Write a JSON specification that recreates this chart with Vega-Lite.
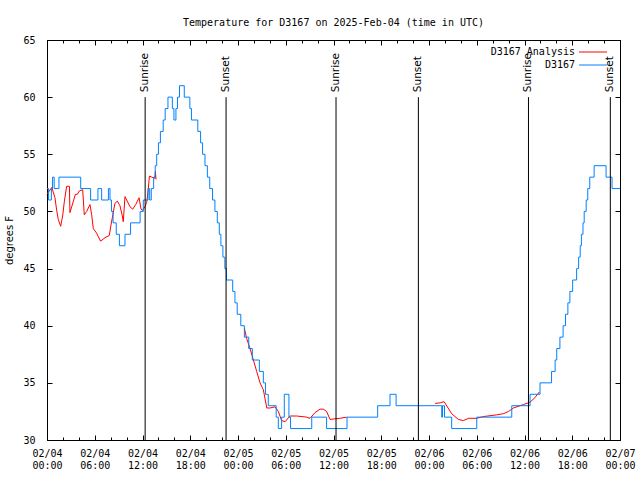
{
  "$schema": "https://vega.github.io/schema/vega-lite/v6.json",
  "width": 573,
  "height": 400,
  "autosize": {"type": "none"},
  "padding": {"left": 47, "top": 40, "right": 20, "bottom": 40},
  "background": "white",
  "title": {"text": "Temperature for D3167 on 2025-Feb-04 (time in UTC)", "font": "DejaVu Sans Mono", "fontSize": 10, "fontWeight": "normal", "color": "black", "anchor": "middle", "frame": "group", "baseline": "alphabetic", "offset": -1},
  "datasets": {
    "temps": [
      {"s": "D3167 Analysis", "g": "a", "t": "2025-02-04T00:00Z", "v": 51.5},
      {"s": "D3167 Analysis", "g": "a", "t": "2025-02-04T00:36Z", "v": 52.1},
      {"s": "D3167 Analysis", "g": "a", "t": "2025-02-04T01:00Z", "v": 51.2},
      {"s": "D3167 Analysis", "g": "a", "t": "2025-02-04T01:13Z", "v": 50.1},
      {"s": "D3167 Analysis", "g": "a", "t": "2025-02-04T01:25Z", "v": 49.3},
      {"s": "D3167 Analysis", "g": "a", "t": "2025-02-04T01:43Z", "v": 48.7},
      {"s": "D3167 Analysis", "g": "a", "t": "2025-02-04T01:58Z", "v": 49.6},
      {"s": "D3167 Analysis", "g": "a", "t": "2025-02-04T02:11Z", "v": 50.9},
      {"s": "D3167 Analysis", "g": "a", "t": "2025-02-04T02:28Z", "v": 52.2},
      {"s": "D3167 Analysis", "g": "a", "t": "2025-02-04T02:49Z", "v": 52.2},
      {"s": "D3167 Analysis", "g": "a", "t": "2025-02-04T02:53Z", "v": 49.9},
      {"s": "D3167 Analysis", "g": "a", "t": "2025-02-04T03:06Z", "v": 50.4},
      {"s": "D3167 Analysis", "g": "a", "t": "2025-02-04T03:19Z", "v": 50.9},
      {"s": "D3167 Analysis", "g": "a", "t": "2025-02-04T03:34Z", "v": 51.5},
      {"s": "D3167 Analysis", "g": "a", "t": "2025-02-04T03:49Z", "v": 51.5},
      {"s": "D3167 Analysis", "g": "a", "t": "2025-02-04T04:04Z", "v": 51.8},
      {"s": "D3167 Analysis", "g": "a", "t": "2025-02-04T04:29Z", "v": 51.9},
      {"s": "D3167 Analysis", "g": "a", "t": "2025-02-04T04:41Z", "v": 49.7},
      {"s": "D3167 Analysis", "g": "a", "t": "2025-02-04T04:59Z", "v": 50.0},
      {"s": "D3167 Analysis", "g": "a", "t": "2025-02-04T05:24Z", "v": 50.6},
      {"s": "D3167 Analysis", "g": "a", "t": "2025-02-04T05:37Z", "v": 49.7},
      {"s": "D3167 Analysis", "g": "a", "t": "2025-02-04T05:49Z", "v": 48.5},
      {"s": "D3167 Analysis", "g": "a", "t": "2025-02-04T06:14Z", "v": 48.1},
      {"s": "D3167 Analysis", "g": "a", "t": "2025-02-04T06:44Z", "v": 47.4},
      {"s": "D3167 Analysis", "g": "a", "t": "2025-02-04T07:17Z", "v": 47.7},
      {"s": "D3167 Analysis", "g": "a", "t": "2025-02-04T07:50Z", "v": 47.9},
      {"s": "D3167 Analysis", "g": "a", "t": "2025-02-04T08:02Z", "v": 48.8},
      {"s": "D3167 Analysis", "g": "a", "t": "2025-02-04T08:15Z", "v": 49.6},
      {"s": "D3167 Analysis", "g": "a", "t": "2025-02-04T08:32Z", "v": 50.7},
      {"s": "D3167 Analysis", "g": "a", "t": "2025-02-04T08:50Z", "v": 50.9},
      {"s": "D3167 Analysis", "g": "a", "t": "2025-02-04T09:10Z", "v": 50.5},
      {"s": "D3167 Analysis", "g": "a", "t": "2025-02-04T09:28Z", "v": 49.6},
      {"s": "D3167 Analysis", "g": "a", "t": "2025-02-04T09:35Z", "v": 49.1},
      {"s": "D3167 Analysis", "g": "a", "t": "2025-02-04T09:48Z", "v": 51.3},
      {"s": "D3167 Analysis", "g": "a", "t": "2025-02-04T10:05Z", "v": 50.9},
      {"s": "D3167 Analysis", "g": "a", "t": "2025-02-04T10:26Z", "v": 50.4},
      {"s": "D3167 Analysis", "g": "a", "t": "2025-02-04T10:46Z", "v": 50.2},
      {"s": "D3167 Analysis", "g": "a", "t": "2025-02-04T11:09Z", "v": 50.6},
      {"s": "D3167 Analysis", "g": "a", "t": "2025-02-04T11:34Z", "v": 51.2},
      {"s": "D3167 Analysis", "g": "a", "t": "2025-02-04T11:49Z", "v": 50.2},
      {"s": "D3167 Analysis", "g": "a", "t": "2025-02-04T12:01Z", "v": 50.1},
      {"s": "D3167 Analysis", "g": "a", "t": "2025-02-04T12:18Z", "v": 50.4},
      {"s": "D3167 Analysis", "g": "a", "t": "2025-02-04T12:32Z", "v": 50.8},
      {"s": "D3167 Analysis", "g": "a", "t": "2025-02-04T12:44Z", "v": 52.0},
      {"s": "D3167 Analysis", "g": "a", "t": "2025-02-04T12:52Z", "v": 53.1},
      {"s": "D3167 Analysis", "g": "a", "t": "2025-02-04T13:10Z", "v": 53.0},
      {"s": "D3167 Analysis", "g": "a", "t": "2025-02-04T13:33Z", "v": 52.9},
      {"s": "D3167 Analysis", "g": "a", "t": "2025-02-04T13:37Z", "v": 53.5},
      {"s": "D3167 Analysis", "g": "a", "t": "2025-02-04T13:42Z", "v": 52.8},
      {"s": "D3167 Analysis", "g": "b", "t": "2025-02-05T00:48Z", "v": 39.8},
      {"s": "D3167 Analysis", "g": "b", "t": "2025-02-05T01:05Z", "v": 38.9},
      {"s": "D3167 Analysis", "g": "b", "t": "2025-02-05T01:31Z", "v": 38.0},
      {"s": "D3167 Analysis", "g": "b", "t": "2025-02-05T01:56Z", "v": 37.0},
      {"s": "D3167 Analysis", "g": "b", "t": "2025-02-05T02:21Z", "v": 36.0},
      {"s": "D3167 Analysis", "g": "b", "t": "2025-02-05T02:46Z", "v": 35.0},
      {"s": "D3167 Analysis", "g": "b", "t": "2025-02-05T03:11Z", "v": 34.4},
      {"s": "D3167 Analysis", "g": "b", "t": "2025-02-05T03:37Z", "v": 32.8},
      {"s": "D3167 Analysis", "g": "b", "t": "2025-02-05T04:01Z", "v": 32.8},
      {"s": "D3167 Analysis", "g": "b", "t": "2025-02-05T04:39Z", "v": 32.9},
      {"s": "D3167 Analysis", "g": "b", "t": "2025-02-05T05:04Z", "v": 32.5},
      {"s": "D3167 Analysis", "g": "b", "t": "2025-02-05T05:29Z", "v": 31.7},
      {"s": "D3167 Analysis", "g": "b", "t": "2025-02-05T05:55Z", "v": 31.6},
      {"s": "D3167 Analysis", "g": "b", "t": "2025-02-05T06:32Z", "v": 32.1},
      {"s": "D3167 Analysis", "g": "b", "t": "2025-02-05T07:23Z", "v": 32.1},
      {"s": "D3167 Analysis", "g": "b", "t": "2025-02-05T08:38Z", "v": 32.0},
      {"s": "D3167 Analysis", "g": "b", "t": "2025-02-05T09:03Z", "v": 31.9},
      {"s": "D3167 Analysis", "g": "b", "t": "2025-02-05T09:41Z", "v": 32.4},
      {"s": "D3167 Analysis", "g": "b", "t": "2025-02-05T10:18Z", "v": 32.7},
      {"s": "D3167 Analysis", "g": "b", "t": "2025-02-05T10:43Z", "v": 32.7},
      {"s": "D3167 Analysis", "g": "b", "t": "2025-02-05T11:08Z", "v": 32.5},
      {"s": "D3167 Analysis", "g": "b", "t": "2025-02-05T11:34Z", "v": 31.8},
      {"s": "D3167 Analysis", "g": "b", "t": "2025-02-05T12:11Z", "v": 31.85},
      {"s": "D3167 Analysis", "g": "b", "t": "2025-02-05T12:48Z", "v": 31.9},
      {"s": "D3167 Analysis", "g": "b", "t": "2025-02-05T13:40Z", "v": 32.0},
      {"s": "D3167 Analysis", "g": "c", "t": "2025-02-06T00:46Z", "v": 33.2},
      {"s": "D3167 Analysis", "g": "c", "t": "2025-02-06T01:24Z", "v": 33.25},
      {"s": "D3167 Analysis", "g": "c", "t": "2025-02-06T01:54Z", "v": 33.35},
      {"s": "D3167 Analysis", "g": "c", "t": "2025-02-06T02:51Z", "v": 32.3},
      {"s": "D3167 Analysis", "g": "c", "t": "2025-02-06T03:41Z", "v": 31.8},
      {"s": "D3167 Analysis", "g": "c", "t": "2025-02-06T04:19Z", "v": 31.7},
      {"s": "D3167 Analysis", "g": "c", "t": "2025-02-06T05:00Z", "v": 31.9},
      {"s": "D3167 Analysis", "g": "c", "t": "2025-02-06T06:00Z", "v": 31.9},
      {"s": "D3167 Analysis", "g": "c", "t": "2025-02-06T06:50Z", "v": 32.05},
      {"s": "D3167 Analysis", "g": "c", "t": "2025-02-06T08:31Z", "v": 32.2},
      {"s": "D3167 Analysis", "g": "c", "t": "2025-02-06T09:20Z", "v": 32.3},
      {"s": "D3167 Analysis", "g": "c", "t": "2025-02-06T10:00Z", "v": 32.5},
      {"s": "D3167 Analysis", "g": "c", "t": "2025-02-06T10:36Z", "v": 32.8},
      {"s": "D3167 Analysis", "g": "c", "t": "2025-02-06T11:51Z", "v": 33.1},
      {"s": "D3167 Analysis", "g": "c", "t": "2025-02-06T12:41Z", "v": 33.3},
      {"s": "D3167 Analysis", "g": "c", "t": "2025-02-06T13:18Z", "v": 33.7},
      {"s": "D3167 Analysis", "g": "c", "t": "2025-02-06T13:52Z", "v": 34.2},
      {"s": "D3167", "g": "d", "t": "2025-02-04T00:00Z", "v": 52},
      {"s": "D3167", "g": "d", "t": "2025-02-04T00:12Z", "v": 51},
      {"s": "D3167", "g": "d", "t": "2025-02-04T00:33Z", "v": 52},
      {"s": "D3167", "g": "d", "t": "2025-02-04T00:42Z", "v": 53},
      {"s": "D3167", "g": "d", "t": "2025-02-04T00:54Z", "v": 52},
      {"s": "D3167", "g": "d", "t": "2025-02-04T01:30Z", "v": 53},
      {"s": "D3167", "g": "d", "t": "2025-02-04T04:14Z", "v": 52},
      {"s": "D3167", "g": "d", "t": "2025-02-04T05:29Z", "v": 51},
      {"s": "D3167", "g": "d", "t": "2025-02-04T06:24Z", "v": 52},
      {"s": "D3167", "g": "d", "t": "2025-02-04T06:52Z", "v": 51},
      {"s": "D3167", "g": "d", "t": "2025-02-04T07:43Z", "v": 52},
      {"s": "D3167", "g": "d", "t": "2025-02-04T07:55Z", "v": 51},
      {"s": "D3167", "g": "d", "t": "2025-02-04T08:06Z", "v": 50},
      {"s": "D3167", "g": "d", "t": "2025-02-04T08:18Z", "v": 49},
      {"s": "D3167", "g": "d", "t": "2025-02-04T08:42Z", "v": 48},
      {"s": "D3167", "g": "d", "t": "2025-02-04T09:06Z", "v": 47},
      {"s": "D3167", "g": "d", "t": "2025-02-04T09:48Z", "v": 48},
      {"s": "D3167", "g": "d", "t": "2025-02-04T10:30Z", "v": 49},
      {"s": "D3167", "g": "d", "t": "2025-02-04T11:42Z", "v": 50},
      {"s": "D3167", "g": "d", "t": "2025-02-04T12:06Z", "v": 51},
      {"s": "D3167", "g": "d", "t": "2025-02-04T12:42Z", "v": 52},
      {"s": "D3167", "g": "d", "t": "2025-02-04T12:54Z", "v": 51},
      {"s": "D3167", "g": "d", "t": "2025-02-04T13:06Z", "v": 52},
      {"s": "D3167", "g": "d", "t": "2025-02-04T13:24Z", "v": 53},
      {"s": "D3167", "g": "d", "t": "2025-02-04T13:36Z", "v": 54},
      {"s": "D3167", "g": "d", "t": "2025-02-04T13:47Z", "v": 55},
      {"s": "D3167", "g": "d", "t": "2025-02-04T14:00Z", "v": 56},
      {"s": "D3167", "g": "d", "t": "2025-02-04T14:15Z", "v": 57},
      {"s": "D3167", "g": "d", "t": "2025-02-04T14:36Z", "v": 58},
      {"s": "D3167", "g": "d", "t": "2025-02-04T14:51Z", "v": 59},
      {"s": "D3167", "g": "d", "t": "2025-02-04T15:12Z", "v": 60},
      {"s": "D3167", "g": "d", "t": "2025-02-04T15:45Z", "v": 59},
      {"s": "D3167", "g": "d", "t": "2025-02-04T15:57Z", "v": 58},
      {"s": "D3167", "g": "d", "t": "2025-02-04T16:12Z", "v": 59},
      {"s": "D3167", "g": "d", "t": "2025-02-04T16:24Z", "v": 60},
      {"s": "D3167", "g": "d", "t": "2025-02-04T16:39Z", "v": 61},
      {"s": "D3167", "g": "d", "t": "2025-02-04T17:15Z", "v": 60},
      {"s": "D3167", "g": "d", "t": "2025-02-04T17:57Z", "v": 59},
      {"s": "D3167", "g": "d", "t": "2025-02-04T18:09Z", "v": 58},
      {"s": "D3167", "g": "d", "t": "2025-02-04T18:57Z", "v": 57},
      {"s": "D3167", "g": "d", "t": "2025-02-04T19:18Z", "v": 56},
      {"s": "D3167", "g": "d", "t": "2025-02-04T19:33Z", "v": 55},
      {"s": "D3167", "g": "d", "t": "2025-02-04T19:51Z", "v": 54},
      {"s": "D3167", "g": "d", "t": "2025-02-04T20:09Z", "v": 53},
      {"s": "D3167", "g": "d", "t": "2025-02-04T20:27Z", "v": 52},
      {"s": "D3167", "g": "d", "t": "2025-02-04T20:48Z", "v": 51},
      {"s": "D3167", "g": "d", "t": "2025-02-04T21:06Z", "v": 50},
      {"s": "D3167", "g": "d", "t": "2025-02-04T21:24Z", "v": 49},
      {"s": "D3167", "g": "d", "t": "2025-02-04T21:39Z", "v": 48},
      {"s": "D3167", "g": "d", "t": "2025-02-04T21:51Z", "v": 47},
      {"s": "D3167", "g": "d", "t": "2025-02-04T22:06Z", "v": 46},
      {"s": "D3167", "g": "d", "t": "2025-02-04T22:21Z", "v": 45},
      {"s": "D3167", "g": "d", "t": "2025-02-04T22:33Z", "v": 44},
      {"s": "D3167", "g": "d", "t": "2025-02-04T23:20Z", "v": 43},
      {"s": "D3167", "g": "d", "t": "2025-02-04T23:37Z", "v": 42},
      {"s": "D3167", "g": "d", "t": "2025-02-04T23:54Z", "v": 41},
      {"s": "D3167", "g": "d", "t": "2025-02-05T00:21Z", "v": 40},
      {"s": "D3167", "g": "d", "t": "2025-02-05T00:48Z", "v": 39},
      {"s": "D3167", "g": "d", "t": "2025-02-05T01:21Z", "v": 38},
      {"s": "D3167", "g": "d", "t": "2025-02-05T01:48Z", "v": 37},
      {"s": "D3167", "g": "d", "t": "2025-02-05T02:41Z", "v": 36},
      {"s": "D3167", "g": "d", "t": "2025-02-05T03:11Z", "v": 35},
      {"s": "D3167", "g": "d", "t": "2025-02-05T03:27Z", "v": 34},
      {"s": "D3167", "g": "d", "t": "2025-02-05T03:48Z", "v": 33},
      {"s": "D3167", "g": "d", "t": "2025-02-05T04:48Z", "v": 32},
      {"s": "D3167", "g": "d", "t": "2025-02-05T05:04Z", "v": 31},
      {"s": "D3167", "g": "d", "t": "2025-02-05T05:29Z", "v": 32},
      {"s": "D3167", "g": "d", "t": "2025-02-05T05:49Z", "v": 34},
      {"s": "D3167", "g": "d", "t": "2025-02-05T06:24Z", "v": 32},
      {"s": "D3167", "g": "d", "t": "2025-02-05T06:36Z", "v": 31},
      {"s": "D3167", "g": "d", "t": "2025-02-05T09:16Z", "v": 32},
      {"s": "D3167", "g": "d", "t": "2025-02-05T11:08Z", "v": 31},
      {"s": "D3167", "g": "d", "t": "2025-02-05T13:42Z", "v": 32},
      {"s": "D3167", "g": "d", "t": "2025-02-05T17:33Z", "v": 33},
      {"s": "D3167", "g": "d", "t": "2025-02-05T19:06Z", "v": 34},
      {"s": "D3167", "g": "d", "t": "2025-02-05T19:52Z", "v": 33},
      {"s": "D3167", "g": "d", "t": "2025-02-06T01:36Z", "v": 32},
      {"s": "D3167", "g": "d", "t": "2025-02-06T01:42Z", "v": 33},
      {"s": "D3167", "g": "d", "t": "2025-02-06T01:57Z", "v": 32},
      {"s": "D3167", "g": "d", "t": "2025-02-06T02:51Z", "v": 31},
      {"s": "D3167", "g": "d", "t": "2025-02-06T06:00Z", "v": 32},
      {"s": "D3167", "g": "d", "t": "2025-02-06T10:24Z", "v": 33},
      {"s": "D3167", "g": "d", "t": "2025-02-06T12:42Z", "v": 34},
      {"s": "D3167", "g": "d", "t": "2025-02-06T13:57Z", "v": 35},
      {"s": "D3167", "g": "d", "t": "2025-02-06T15:24Z", "v": 36},
      {"s": "D3167", "g": "d", "t": "2025-02-06T15:51Z", "v": 37},
      {"s": "D3167", "g": "d", "t": "2025-02-06T16:03Z", "v": 38},
      {"s": "D3167", "g": "d", "t": "2025-02-06T16:27Z", "v": 39},
      {"s": "D3167", "g": "d", "t": "2025-02-06T16:51Z", "v": 40},
      {"s": "D3167", "g": "d", "t": "2025-02-06T17:09Z", "v": 41},
      {"s": "D3167", "g": "d", "t": "2025-02-06T17:27Z", "v": 42},
      {"s": "D3167", "g": "d", "t": "2025-02-06T17:42Z", "v": 43},
      {"s": "D3167", "g": "d", "t": "2025-02-06T18:03Z", "v": 44},
      {"s": "D3167", "g": "d", "t": "2025-02-06T18:33Z", "v": 45},
      {"s": "D3167", "g": "d", "t": "2025-02-06T18:48Z", "v": 46},
      {"s": "D3167", "g": "d", "t": "2025-02-06T19:00Z", "v": 47},
      {"s": "D3167", "g": "d", "t": "2025-02-06T19:09Z", "v": 48},
      {"s": "D3167", "g": "d", "t": "2025-02-06T19:21Z", "v": 49},
      {"s": "D3167", "g": "d", "t": "2025-02-06T19:30Z", "v": 50},
      {"s": "D3167", "g": "d", "t": "2025-02-06T19:45Z", "v": 51},
      {"s": "D3167", "g": "d", "t": "2025-02-06T19:57Z", "v": 52},
      {"s": "D3167", "g": "d", "t": "2025-02-06T20:12Z", "v": 53},
      {"s": "D3167", "g": "d", "t": "2025-02-06T20:45Z", "v": 54},
      {"s": "D3167", "g": "d", "t": "2025-02-06T22:15Z", "v": 53},
      {"s": "D3167", "g": "d", "t": "2025-02-06T23:00Z", "v": 52},
      {"s": "D3167", "g": "d", "t": "2025-02-07T00:00Z", "v": 52}
    ],
    "sun": [
      {"t": "2025-02-04T12:20Z", "label": "Sunrise"},
      {"t": "2025-02-04T22:30Z", "label": "Sunset"},
      {"t": "2025-02-05T12:19Z", "label": "Sunrise"},
      {"t": "2025-02-05T22:40Z", "label": "Sunset"},
      {"t": "2025-02-06T12:30Z", "label": "Sunrise"},
      {"t": "2025-02-06T22:47Z", "label": "Sunset"}
    ]
  },
  "layer": [
    {
      "data": {"name": "temps"},
      "transform": [{"filter": "datum.s === 'D3167 Analysis'"}],
      "mark": {"type": "line", "strokeWidth": 1, "interpolate": "linear"},
      "encoding": {
        "x": {"field": "t", "type": "temporal",
          "scale": {"type": "utc", "domain": [{"year": 2025, "month": 2, "date": 4, "utc": true}, {"year": 2025, "month": 2, "date": 7, "utc": true}]},
          "axis": {"orient": "bottom", "title": null, "values": [1738627200000, 1738648800000, 1738670400000, 1738692000000, 1738713600000, 1738735200000, 1738756800000, 1738778400000, 1738800000000, 1738821600000, 1738843200000, 1738864800000, 1738886400000],
            "tickSize": -5, "labelPadding": 13, "labelFlush": false, "labelOverlap": false, "labelBound": false,
            "labelExpr": "[utcFormat(datum.value, '%m/%d'), utcFormat(datum.value, '%H:%M')]",
            "labelLineHeight": 12, "labelAlign": "center", "labelBaseline": "top"}},
        "y": {"field": "v", "type": "quantitative",
          "scale": {"domain": [30, 65], "zero": false, "nice": false},
          "axis": {"orient": "left", "values": [30, 35, 40, 45, 50, 55, 60, 65], "tickSize": -5, "labelPadding": 17, "title": "degrees F", "titlePadding": 8}},
        "color": {"field": "s", "type": "nominal",
          "scale": {"domain": ["D3167 Analysis", "D3167"], "range": ["#ff0000", "#0080ff"]},
          "legend": {"title": null, "orient": "none", "legendX": 541, "legendY": 7, "direction": "vertical", "symbolType": "M-14,0H14", "symbolSize": 4, "symbolStrokeWidth": 1, "labelAlign": "right", "labelOffset": -23, "labelFont": "DejaVu Sans Mono", "labelFontSize": 10, "labelColor": "black", "rowPadding": 3, "labelLimit": 0, "padding": 0}},
        "detail": {"field": "g"}
      }
    },
    {
      "data": {"name": "temps"},
      "transform": [{"filter": "datum.s === 'D3167'"}],
      "mark": {"type": "line", "strokeWidth": 1, "interpolate": "step-after"},
      "encoding": {
        "x": {"field": "t", "type": "temporal",
          "scale": {"type": "utc", "domain": [{"year": 2025, "month": 2, "date": 4, "utc": true}, {"year": 2025, "month": 2, "date": 7, "utc": true}]},
          "axis": {"orient": "bottom", "title": null, "labels": false, "tickSize": -3,
            "values": [1738627200000, 1738634400000, 1738641600000, 1738648800000, 1738656000000, 1738663200000, 1738670400000, 1738677600000, 1738684800000, 1738692000000, 1738699200000, 1738706400000, 1738713600000, 1738720800000, 1738728000000, 1738735200000, 1738742400000, 1738749600000, 1738756800000, 1738764000000, 1738771200000, 1738778400000, 1738785600000, 1738792800000, 1738800000000, 1738807200000, 1738814400000, 1738821600000, 1738828800000, 1738836000000, 1738843200000, 1738850400000, 1738857600000, 1738864800000, 1738872000000, 1738879200000, 1738886400000]}},
        "y": {"field": "v", "type": "quantitative",
          "scale": {"domain": [30, 65], "zero": false, "nice": false},
          "axis": {"orient": "right", "values": [30, 35, 40, 45, 50, 55, 60, 65], "tickSize": -5, "labels": false, "title": null}},
        "color": {"field": "s", "type": "nominal",
          "scale": {"domain": ["D3167 Analysis", "D3167"], "range": ["#ff0000", "#0080ff"]},
          "legend": {"title": null, "orient": "none", "legendX": 541, "legendY": 7, "direction": "vertical", "symbolType": "M-14,0H14", "symbolSize": 4, "symbolStrokeWidth": 1, "labelAlign": "right", "labelOffset": -23, "labelFont": "DejaVu Sans Mono", "labelFontSize": 10, "labelColor": "black", "rowPadding": 3, "labelLimit": 0, "padding": 0}}
      }
    },
    {
      "data": {"name": "sun"},
      "mark": {"type": "rule", "color": "black", "strokeWidth": 1},
      "encoding": {
        "x": {"field": "t", "type": "temporal",
          "scale": {"type": "utc", "domain": [{"year": 2025, "month": 2, "date": 4, "utc": true}, {"year": 2025, "month": 2, "date": 7, "utc": true}]},
          "axis": {"orient": "top", "title": null, "labels": false, "tickSize": -5, "values": [1738627200000, 1738648800000, 1738670400000, 1738692000000, 1738713600000, 1738735200000, 1738756800000, 1738778400000, 1738800000000, 1738821600000, 1738843200000, 1738864800000, 1738886400000]}},
        "y": {"datum": 30, "type": "quantitative", "axis": null},
        "y2": {"datum": 60}
      }
    },
    {
      "data": {"name": "sun"},
      "mark": {"type": "text", "angle": 270, "align": "left", "baseline": "middle", "dx": 5, "font": "DejaVu Sans", "fontSize": 10.5, "color": "black"},
      "encoding": {
        "x": {"field": "t", "type": "temporal",
          "scale": {"type": "utc", "domain": [{"year": 2025, "month": 2, "date": 4, "utc": true}, {"year": 2025, "month": 2, "date": 7, "utc": true}]},
          "axis": {"orient": "top", "title": null, "labels": false, "tickSize": -3,
            "values": [1738627200000, 1738634400000, 1738641600000, 1738648800000, 1738656000000, 1738663200000, 1738670400000, 1738677600000, 1738684800000, 1738692000000, 1738699200000, 1738706400000, 1738713600000, 1738720800000, 1738728000000, 1738735200000, 1738742400000, 1738749600000, 1738756800000, 1738764000000, 1738771200000, 1738778400000, 1738785600000, 1738792800000, 1738800000000, 1738807200000, 1738814400000, 1738821600000, 1738828800000, 1738836000000, 1738843200000, 1738850400000, 1738857600000, 1738864800000, 1738872000000, 1738879200000, 1738886400000]}},
        "y": {"datum": 60, "type": "quantitative", "axis": null},
        "text": {"field": "label"}
      }
    }
  ],
  "resolve": {"axis": {"x": "independent", "y": "independent"}},
  "config": {
    "view": {"stroke": "black", "strokeWidth": 1},
    "axis": {"domain": false, "grid": false, "ticks": true, "tickColor": "black", "tickWidth": 1, "labelColor": "black", "labelFont": "DejaVu Sans Mono", "labelFontSize": 10, "titleFont": "DejaVu Sans", "titleFontSize": 10, "titleFontWeight": "normal", "titleColor": "black"}
  }
}
